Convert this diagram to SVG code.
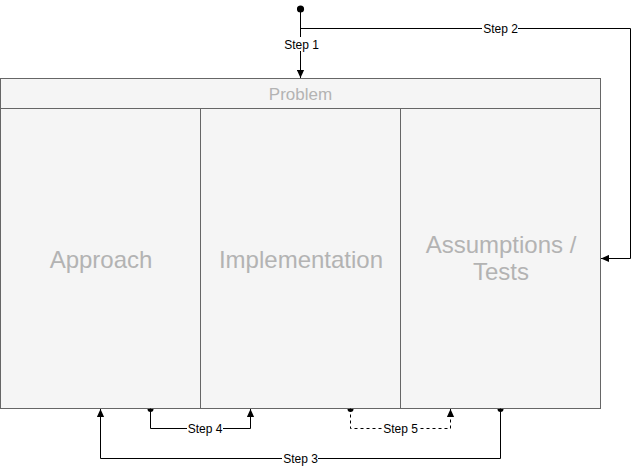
<svg xmlns="http://www.w3.org/2000/svg" width="640" height="468" viewBox="0 0 640 468">
<style>
.box{fill:#f5f5f5;stroke:#666666;stroke-width:1}
.big{font-family:"Liberation Sans",Arial,sans-serif;font-size:24px;fill:#b3b3b3;text-anchor:middle}
.hdr{font-family:"Liberation Sans",Arial,sans-serif;font-size:17px;fill:#b3b3b3;text-anchor:middle}
.edge{fill:none;stroke:#000;stroke-width:1}
.dash{stroke-dasharray:3 3}
.lbl{font-family:"Liberation Sans",Arial,sans-serif;font-size:12px;fill:#000;text-anchor:middle}
.lblbg{fill:#fff}
.hd{fill:#000}
</style>
<defs>
<marker id="arr" viewBox="0 0 10 10" refX="10" refY="5" markerWidth="8" markerHeight="8" markerUnits="userSpaceOnUse" orient="auto"><path d="M0,0.5 L10,5 L0,9.5 Z" fill="#000"/></marker>
<marker id="dot" viewBox="0 0 10 10" refX="5" refY="5" markerWidth="8" markerHeight="8" markerUnits="userSpaceOnUse" orient="auto"><circle cx="5" cy="5" r="4.5" fill="#000"/></marker>
</defs>
<g id="problem">
<rect class="box" x="0.5" y="78.5" width="600" height="30"/>
<text class="hdr" x="300.5" y="100">Problem</text>
</g>
<g id="approach">
<rect class="box" x="0.5" y="108.5" width="200" height="300"/>
<text class="big" x="101" y="267.5">Approach</text>
</g>
<g id="implementation">
<rect class="box" x="200.5" y="108.5" width="200" height="300"/>
<text class="big" x="301" y="267.5">Implementation</text>
</g>
<g id="assumptions">
<rect class="box" x="400.5" y="108.5" width="200" height="300"/>
<text class="big" x="501" y="253">Assumptions /</text>
<text class="big" x="501" y="280">Tests</text>
</g>
<g id="connectors">
<path class="edge" d="M300.5,9 L300.5,78" marker-start="url(#dot)" marker-end="url(#arr)"/>
<path class="edge" d="M300.5,28.5 L630.5,28.5 L630.5,258.5 L601,258.5" marker-end="url(#arr)"/>
<path class="edge" d="M150.5,408.5 L150.5,428.5 L250.5,428.5 L250.5,409" marker-end="url(#arr)"/>
<path class="edge dash" d="M350.5,408.5 L350.5,428.5 L450.5,428.5 L450.5,409" marker-end="url(#arr)"/>
<path class="edge" d="M500.5,408.5 L500.5,458.5 L100.5,458.5 L100.5,409" marker-end="url(#arr)"/>
<path class="hd" d="M147.5,409 A3,3 0 0 0 153.5,409 Z"/>
<path class="hd" d="M347.5,409 A3,3 0 0 0 353.5,409 Z"/>
<path class="hd" d="M497.5,409 A3,3 0 0 0 503.5,409 Z"/>
<rect class="lblbg" x="283" y="37" width="36" height="14"/>
<text class="lbl" x="301.5" y="48.5">Step 1</text>
<rect class="lblbg" x="482" y="22" width="36" height="14"/>
<text class="lbl" x="500.5" y="33">Step 2</text>
<rect class="lblbg" x="282" y="452" width="36" height="14"/>
<text class="lbl" x="300.5" y="463">Step 3</text>
<rect class="lblbg" x="187" y="422" width="36" height="14"/>
<text class="lbl" x="205" y="433">Step 4</text>
<rect class="lblbg" x="382" y="422" width="36" height="14"/>
<text class="lbl" x="400.5" y="433">Step 5</text>
</g>
</svg>
